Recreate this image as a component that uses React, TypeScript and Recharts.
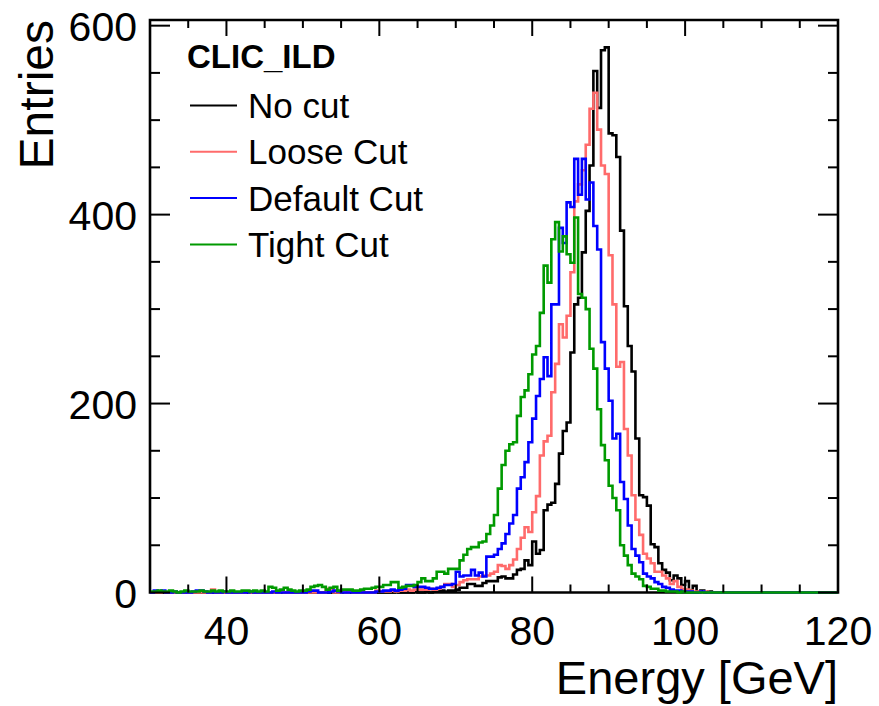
import React from 'react';
import { LineChart, Line, XAxis, YAxis, ReferenceArea } from 'recharts';

const FONT = '"Liberation Sans", Arial, Helvetica, sans-serif';

// histogram binning: 0.5 GeV bins from 30 to 120 GeV
const FIRST_EDGE = 30;
const BIN_WIDTH = 0.5;

const noCut = [
  0, 0, 0, 0, 0, 0, 0, 0, 0, 0,
  0, 0, 0, 0, 0, 0, 0, 0, 1, 0,
  0, 0, 0, 0, 0, 0, 0, 0, 0, 0,
  0, 0, 0, 0, 0, 0, 0, 0, 0, 0,
  0, 0, 0, 0, 0, 0, 0, 0, 0, 0,
  0, 0, 0, 1, 0, 0, 0, 0, 0, 0,
  0, 0, 0, 0, 1, 0, 0, 0, 0, 1,
  0, 0, 1, 0, 1, 1, 2, 1, 2, 2,
  3, 5, 5, 9, 9, 7, 7, 10, 12, 12,
  12, 16, 17, 15, 15, 19, 24, 25, 34, 29,
  54, 41, 45, 87, 93, 95, 115, 147, 171, 180,
  254, 305, 312, 360, 404, 452, 552, 513, 574, 577,
  486, 484, 461, 383, 303, 261, 234, 163, 103, 101,
  92, 51, 48, 31, 24, 21, 13, 18, 15, 8,
  12, 2, 7, 1, 2, 0, 1, 0, 0, 0,
  0, 0, 0, 0, 0, 0, 0, 0, 0, 0,
  0, 0, 0, 0, 0, 0, 0, 0, 0, 0,
  0, 0, 0, 0, 0, 0, 0, 0, 0, 0,
];

const looseCut = [
  0, 0, 0, 1, 0, 0, 0, 0, 0, 0,
  0, 0, 0, 0, 0, 0, 3, 0, 0, 0,
  0, 0, 0, 0, 0, 1, 0, 0, 0, 0,
  0, 0, 0, 0, 1, 0, 0, 0, 0, 0,
  0, 0, 0, 0, 0, 0, 4, 4, 0, 0,
  1, 0, 1, 0, 0, 0, 0, 0, 0, 2,
  1, 1, 1, 2, 1, 2, 2, 3, 2, 3,
  3, 3, 3, 4, 3, 4, 6, 9, 9, 6,
  8, 11, 13, 14, 14, 14, 17, 18, 18, 20,
  22, 29, 28, 25, 29, 35, 46, 58, 69, 64,
  85, 102, 145, 160, 166, 212, 242, 284, 270, 293,
  339, 414, 432, 447, 474, 512, 529, 490, 452, 443,
  357, 305, 239, 244, 173, 145, 103, 77, 61, 41,
  36, 31, 22, 22, 18, 15, 9, 12, 6, 4,
  3, 2, 1, 1, 0, 1, 0, 0, 0, 0,
  0, 0, 0, 0, 0, 0, 0, 0, 0, 0,
  0, 0, 0, 0, 0, 0, 0, 0, 0, 0,
  0, 0, 0, 0, 0, 0, 0, 0, 0, 0,
];

const defaultCut = [
  0, 2, 1, 2, 0, 0, 1, 0, 0, 0,
  0, 1, 2, 2, 1, 0, 0, 0, 0, 1,
  0, 0, 0, 0, 0, 0, 1, 0, 0, 0,
  0, 0, 1, 0, 0, 0, 0, 0, 0, 0,
  0, 1, 2, 2, 0, 0, 0, 1, 2, 1,
  0, 0, 0, 0, 0, 0, 0, 0, 0, 1,
  1, 2, 2, 3, 2, 3, 4, 8, 8, 6,
  6, 6, 5, 4, 4, 5, 6, 8, 8, 9,
  22, 17, 18, 18, 24, 18, 21, 17, 38, 38,
  40, 46, 52, 62, 73, 82, 110, 122, 138, 159,
  184, 208, 226, 249, 229, 305, 305, 386, 370, 413,
  408, 459, 421, 459, 416, 434, 388, 363, 265, 237,
  203, 163, 168, 117, 99, 71, 46, 39, 32, 20,
  17, 15, 11, 9, 6, 5, 3, 2, 2, 1,
  1, 1, 0, 0, 1, 0, 0, 0, 0, 0,
  0, 0, 0, 0, 0, 0, 0, 0, 0, 0,
  0, 0, 0, 0, 0, 0, 0, 0, 0, 0,
  0, 0, 0, 0, 0, 0, 0, 0, 0, 0,
];

const tightCut = [
  1, 1, 2, 1, 1, 2, 1, 0, 1, 2,
  1, 1, 1, 2, 1, 1, 2, 1, 2, 1,
  1, 2, 1, 1, 2, 2, 1, 2, 1, 2,
  1, 6, 5, 2, 3, 5, 3, 2, 1, 2,
  2, 3, 6, 7, 8, 6, 3, 5, 6, 2,
  3, 3, 3, 2, 2, 3, 4, 4, 5, 6,
  6, 8, 8, 11, 11, 5, 6, 7, 7, 8,
  11, 15, 12, 12, 15, 22, 22, 20, 25, 25,
  25, 34, 40, 46, 48, 48, 53, 54, 62, 71,
  82, 110, 135, 150, 157, 159, 187, 207, 214, 231,
  252, 261, 296, 346, 328, 374, 392, 361, 377, 358,
  349, 397, 316, 312, 300, 258, 237, 194, 156, 140,
  113, 100, 87, 50, 39, 29, 20, 17, 14, 7,
  6, 4, 4, 2, 2, 1, 1, 1, 0, 1,
  0, 0, 0, 0, 0, 0, 0, 0, 0, 0,
  0, 0, 0, 0, 0, 0, 0, 0, 0, 0,
  0, 0, 0, 0, 0, 0, 0, 0, 0, 0,
  0, 0, 0, 0, 0, 0, 0, 0, 0, 0,
];

const xTicks = [30, 35, 40, 45, 50, 55, 60, 65, 70, 75, 80, 85, 90, 95, 100, 105, 110, 115, 120];
const yTicks = [0, 50, 100, 150, 200, 250, 300, 350, 400, 450, 500, 550, 600];
const X_MAX = 120;
const Y_MAX = 606;

const series = [
  { key: 'noCut', name: 'No cut', color: '#000000' },
  { key: 'looseCut', name: 'Loose Cut', color: '#ff6b6b' },
  { key: 'defaultCut', name: 'Default Cut', color: '#0000ff' },
  { key: 'tightCut', name: 'Tight Cut', color: '#009a00' },
];

// one row per bin low edge, plus a closing row at the upper edge for the step line
const rows = noCut.map((_, i) => ({
  e: FIRST_EDGE + i * BIN_WIDTH,
  noCut: noCut[i],
  looseCut: looseCut[i],
  defaultCut: defaultCut[i],
  tightCut: tightCut[i],
}));
rows.push({ ...rows[rows.length - 1], e: FIRST_EDGE + noCut.length * BIN_WIDTH });

const W = 879;
const H = 706;
const PLOT = { left: 150, right: 838, top: 20, bottom: 592.5 };

function XTick(props: any) {
  const { x, payload } = props;
  const v = payload.value;
  const major = v % 20 === 0;
  const len = major ? 16 : 8;
  return (
    <g>
      <line x1={x} x2={x} y1={PLOT.bottom} y2={PLOT.bottom - len} stroke="#000" strokeWidth={2} />
      <line x1={x} x2={x} y1={PLOT.top} y2={PLOT.top + len} stroke="#000" strokeWidth={2} />
      {major && (
        <text x={x} y={645} textAnchor="middle" fontSize={41} fontFamily={FONT} fill="#000">
          {v}
        </text>
      )}
    </g>
  );
}

function YTick(props: any) {
  const { y, payload } = props;
  const v = payload.value;
  const major = v % 200 === 0;
  const len = major ? 20 : 10;
  return (
    <g>
      <line x1={PLOT.left} x2={PLOT.left + len} y1={y} y2={y} stroke="#000" strokeWidth={2} />
      <line x1={PLOT.right} x2={PLOT.right - len} y1={y} y2={y} stroke="#000" strokeWidth={2} />
      {major && (
        <text x={137} y={y + 15} textAnchor="end" fontSize={41} fontFamily={FONT} fill="#000">
          {v}
        </text>
      )}
    </g>
  );
}

export default function App() {
  return (
    <div style={{ position: 'absolute', left: 0, top: 0, width: W, height: H, background: '#fff' }}>
      <LineChart
        width={W}
        height={H}
        data={rows}
        margin={{ top: PLOT.top, right: W - PLOT.right, bottom: 0, left: 0 }}
      >
        <XAxis
          dataKey="e"
          type="number"
          domain={[FIRST_EDGE, X_MAX]}
          ticks={xTicks}
          interval={0}
          height={H - PLOT.bottom}
          axisLine={false}
          tickLine={false}
          tick={<XTick />}
          allowDataOverflow
        />
        <YAxis
          type="number"
          domain={[0, Y_MAX]}
          ticks={yTicks}
          interval={0}
          width={PLOT.left}
          axisLine={false}
          tickLine={false}
          tick={<YTick />}
        />
        {series.map((s) => (
          <Line
            key={s.key}
            dataKey={s.key}
            name={s.name}
            type="stepAfter"
            stroke={s.color}
            strokeWidth={2.6}
            dot={false}
            activeDot={false}
            isAnimationActive={false}
          />
        ))}
        <ReferenceArea
          x1={FIRST_EDGE}
          x2={X_MAX}
          y1={0}
          y2={Y_MAX}
          fill="none"
          fillOpacity={0}
          stroke="#000"
          strokeWidth={2.6}
        />
      </LineChart>

      <svg
        width={W}
        height={H}
        style={{ position: 'absolute', left: 0, top: 0, pointerEvents: 'none' }}
      >
        <text
          x={53}
          y={20}
          transform="rotate(-90 53 20)"
          textAnchor="end"
          fontSize={48}
          fontFamily={FONT}
          fill="#000"
        >
          Entries
        </text>
        <text x={838} y={694} textAnchor="end" fontSize={47} fontFamily={FONT} fill="#000">
          Energy [GeV]
        </text>

        <text x={187} y={68} fontSize={33} fontWeight="bold" fontFamily={FONT} fill="#000">
          CLIC_ILD
        </text>
        {series.map((s, i) => {
          const base = 118 + i * 46.3;
          return (
            <g key={s.key}>
              <line x1={190} x2={237} y1={base - 12.5} y2={base - 12.5} stroke={s.color} strokeWidth={2} />
              <text x={248} y={base} fontSize={35} fontFamily={FONT} fill="#000">
                {s.name}
              </text>
            </g>
          );
        })}
      </svg>
    </div>
  );
}
